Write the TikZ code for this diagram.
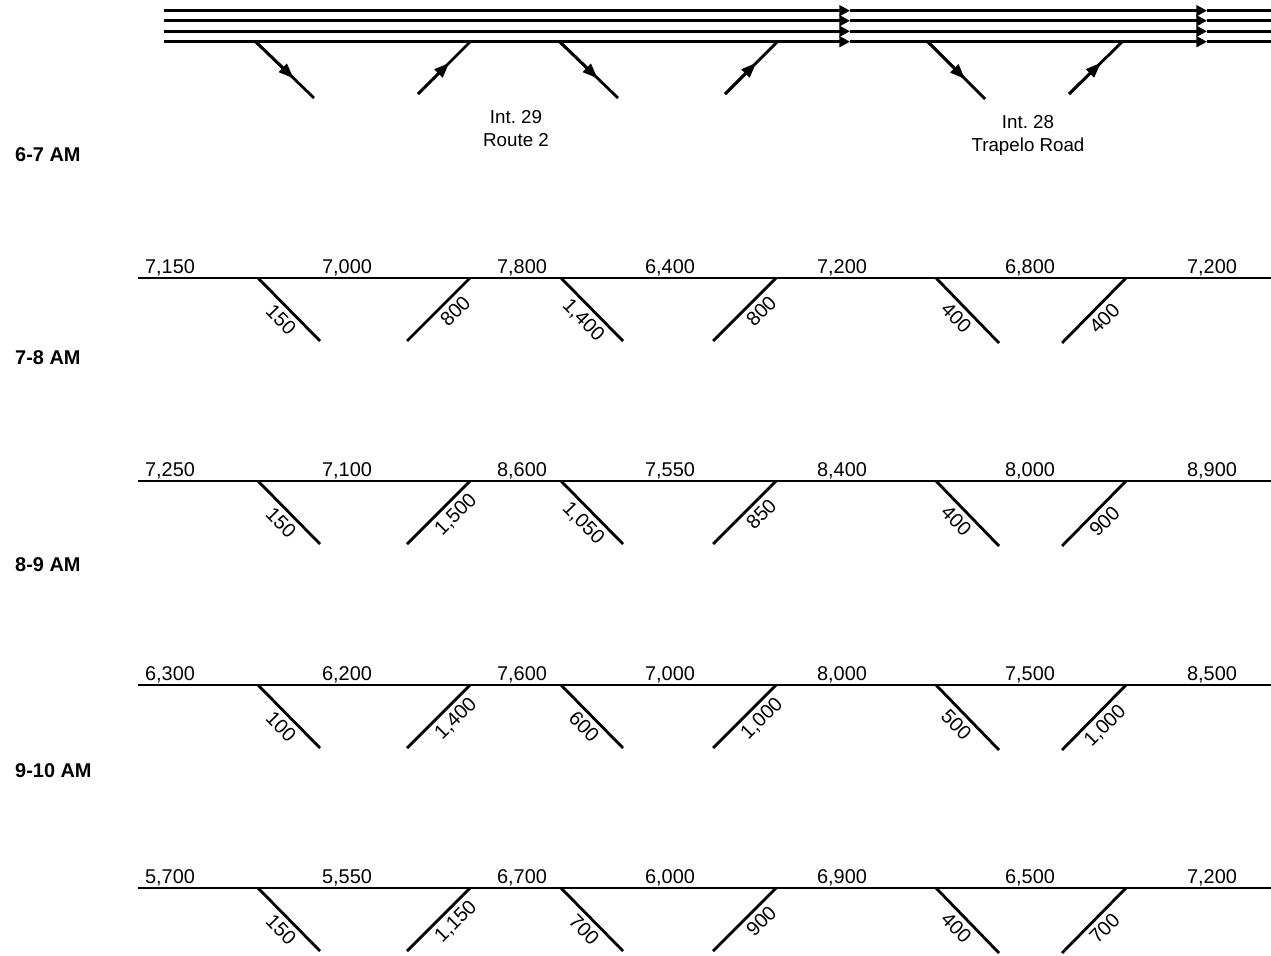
\documentclass[tikz,border=0pt]{standalone}
\usepackage{fontspec}
\setmainfont{Liberation Sans}
\usepackage{tikz}
\usetikzlibrary{arrows.meta,calc}
\frenchspacing

\begin{document}
\begin{tikzpicture}[x=0.03cm,y=-0.03cm,
  road/.style={line width=2.4pt},
  lane/.style={line width=2.2pt},
  laneflow/.style={lane,-{Triangle[length=9pt,width=9pt]}},
  rampflow/.style={road,-{Triangle[length=13pt,width=9.5pt]}},
  vol/.style={font=\fontsize{17}{20}\selectfont,anchor=base,inner sep=0pt},
  rampvol/.style={font=\fontsize{17}{20}\selectfont,sloped,below,inner sep=3.8pt},
  hour/.style={font=\fontsize{17}{20}\selectfont\bfseries,anchor=west,inner sep=0pt},
  place/.style={font=\fontsize{16}{19.6}\selectfont,align=center}
]
  \useasboundingbox (0,0) rectangle (1271,955);

  % schematic of the four lanes
  \foreach \y [count=\k] in {10.7,20.7,31.3,41.7} {
    \coordinate (t\k-s) at (164,\y);
    \coordinate (t\k-a) at (850,\y);
    \coordinate (t\k-b) at (1207,\y);
    \coordinate (t\k-e) at (1271,\y);
    \draw[laneflow] (t\k-s) -- (t\k-a);
    \draw[laneflow] (t\k-a) -- (t\k-b);
    \draw[lane] (t\k-b) -- (t\k-e);
  }
  \foreach \xa/\ya/\xb/\yb/\f [count=\k] in {256/42/314/98/0.65, 418/94/470/42/0.6,
      560/42/618/98/0.65, 725/94/777/42/0.6, 928/42/985/99/0.65, 1069/94/1122/42/0.6} {
    \coordinate (tr\k-a) at (\xa,\ya);
    \coordinate (tr\k-b) at (\xb,\yb);
    \coordinate (tr\k-m) at ($(tr\k-a)!\f!(tr\k-b)$);
    \draw[road] (tr\k-a) -- (tr\k-b);
    \draw[rampflow] (tr\k-a) -- (tr\k-m);
  }
  \node[place] (int29) at (516,128.5) {Int. 29\\Route 2};
  \node[place] (int28) at (1028,135) {Int. 28\\Trapelo Road};

  % hourly volumes
  \node[hour] (h6) at (15,155) {6-7 AM};
  \node[hour] (h7) at (15,358) {7-8 AM};
  \node[hour] (h8) at (15,565) {8-9 AM};
  \node[hour] (h9) at (15,771) {9-10 AM};

  \foreach \y/\vols/\rvols [count=\r] in {
    278/{{7,150},{7,000},{7,800},{6,400},{7,200},{6,800},{7,200}}/{150,800,{1,400},800,400,400},
    481/{{7,250},{7,100},{8,600},{7,550},{8,400},{8,000},{8,900}}/{150,{1,500},{1,050},850,400,900},
    685/{{6,300},{6,200},{7,600},{7,000},{8,000},{7,500},{8,500}}/{100,{1,400},600,{1,000},500,{1,000}},
    888/{{5,700},{5,550},{6,700},{6,000},{6,900},{6,500},{7,200}}/{150,{1,150},700,900,400,700}} {
    \coordinate (r\r-w) at (138,\y);
    \coordinate (r\r-e) at (1271,\y);
    \draw[road] (r\r-w) -- (r\r-e);
    \foreach \v [count=\j] in \vols {
      \pgfmathsetmacro\vx{{170,347,522,670,842,1030,1212}[\j-1]}
      \node[vol] (r\r-v\j) at (\vx,\y-5) {\v};
    }
    \foreach \v [count=\k] in \rvols {
      \pgfmathsetmacro\xa{{258,407,561,713,936,1062}[\k-1]}
      \pgfmathsetmacro\ya{{0,63,0,63,0,65}[\k-1]}
      \pgfmathsetmacro\xb{{320,470,623,776,999,1126}[\k-1]}
      \pgfmathsetmacro\yb{{63,0,63,0,65,0}[\k-1]}
      \pgfmathsetmacro\f{{0.52,0.62,0.52,0.62,0.47,0.52}[\k-1]}
      \coordinate (r\r-p\k-a) at (\xa,\y+\ya);
      \coordinate (r\r-p\k-b) at (\xb,\y+\yb);
      \draw[road] (r\r-p\k-a) -- node[rampvol,pos=\f] (r\r-q\k) {\v} (r\r-p\k-b);
    }
  }
\end{tikzpicture}
\end{document}
